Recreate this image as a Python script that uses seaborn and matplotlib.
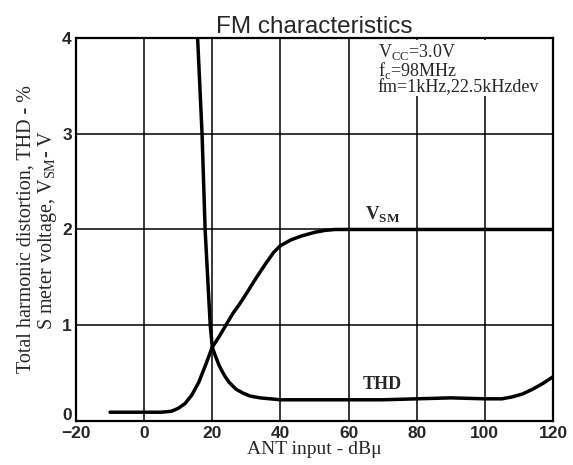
import seaborn as sns
import matplotlib.pyplot as plt
from matplotlib.transforms import ScaledTranslation

# Data
ant_vsm = [-10, -5, 0, 5, 8, 10, 12, 14, 16, 18, 20, 22, 24, 26, 28, 30, 33, 36, 38, 40, 43, 46, 50, 53, 56, 60, 80, 100, 120]
vsm = [0.09, 0.09, 0.09, 0.09, 0.10, 0.13, 0.18, 0.27, 0.40, 0.58, 0.77, 0.88, 1.00, 1.12, 1.22, 1.33, 1.50, 1.66, 1.76, 1.83, 1.89, 1.93, 1.97, 1.99, 2.0, 2.0, 2.0, 2.0, 2.0]

ant_thd = [15.7, 17.0, 17.9, 19.4, 20, 21, 22, 23, 24, 25, 27, 29, 31, 34, 37, 40, 50, 60, 70, 80, 90, 100, 105, 108, 111, 114, 117, 120]
thd = [4.0, 3.0, 2.0, 1.0, 0.77, 0.67, 0.58, 0.51, 0.45, 0.40, 0.33, 0.29, 0.26, 0.24, 0.23, 0.22, 0.22, 0.22, 0.22, 0.23, 0.24, 0.23, 0.23, 0.25, 0.28, 0.33, 0.39, 0.46]

x_ticks = [-20, 0, 20, 40, 60, 80, 100, 120]
y_ticks = [0, 1, 2, 3, 4]

sns.set_theme(style="white")
plt.rcParams['font.family'] = ['Liberation Sans', 'DejaVu Sans']

fig = plt.figure(figsize=(5.73, 4.65), dpi=100)
ax = fig.add_axes([0.1326, 0.095, 0.8325, 0.823])

# grid lines
for gx in [0, 20, 40, 60, 80, 100]:
    ax.axvline(gx, color='black', lw=1.1, zorder=1)
for gy in [1, 2, 3]:
    ax.axhline(gy, color='black', lw=1.1, zorder=1)

sns.lineplot(x=ant_vsm, y=vsm, color='black', lw=2.5, ax=ax, sort=False, zorder=3)
sns.lineplot(x=ant_thd, y=thd, color='black', lw=2.5, ax=ax, sort=False, zorder=3)

ax.set_xlim(-20, 120)
ax.set_ylim(0, 4)
ax.set_xticks(x_ticks)
ax.set_yticks(y_ticks)
ax.tick_params(axis='x', length=0, pad=4, labelsize=12.5)
ax.tick_params(axis='y', length=0, pad=3, labelsize=12.5)
for lab in ax.get_xticklabels() + ax.get_yticklabels():
    lab.set_fontweight('bold')
# the "0" label sits just above the bottom edge, as in the reference
ylabs = ax.get_yticklabels()
ylabs[0].set_transform(ylabs[0].get_transform() + ScaledTranslation(0, 5 / 72, fig.dpi_scale_trans))

for s in ax.spines.values():
    s.set_color('black')
    s.set_linewidth(1.6)

ax.set_title('FM characteristics', fontsize=17.5, pad=4)
ax.set_xlabel('ANT input - dBμ', family=['Liberation Serif'], fontsize=14, labelpad=0)
ax.set_ylabel('Total harmonic distortion, THD - %\nS meter voltage, V$_{\\mathregular{SM}}$- V',
              family=['Liberation Serif'], fontsize=14.5, labelpad=2, linespacing=1.05)

ax.text(68.5, 3.96, 'V$_{\\mathregular{CC}}$=3.0V\nf$_{\\mathregular{c}}$=98MHz\nfm=1kHz,22.5kHzdev',
        family=['Liberation Serif'], fontsize=13, va='top', ha='left', linespacing=0.85,
        bbox=dict(facecolor='white', edgecolor='none', pad=0.5), zorder=4)

ax.text(70, 2.05, 'V$_{\\mathregular{SM}}$', family=['Liberation Serif'], fontsize=13.5,
        ha='center', va='bottom', fontweight='bold')
ax.text(70, 0.29, 'THD', family=['Liberation Serif'], fontsize=13,
        ha='center', va='bottom', fontweight='bold')

fig.savefig('out.png', dpi=100, facecolor='white')
